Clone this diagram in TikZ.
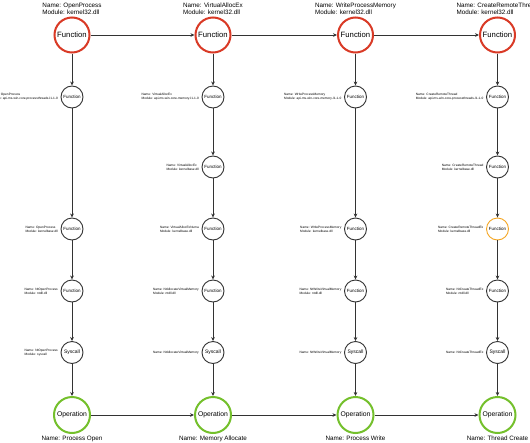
\documentclass[tikz,border=0pt]{standalone}
\usepackage{fontspec}
\setmainfont{Liberation Sans}
\usetikzlibrary{arrows.meta}
\definecolor{fnred}{HTML}{D93A26}
\definecolor{opgreen}{HTML}{74C02C}
\definecolor{fnorange}{HTML}{F5A623}
\definecolor{edge}{HTML}{333333}
\tikzset{
  bigfn/.style={circle, draw=fnred, line width=2pt, minimum size=35pt, inner sep=0pt, font=\fontsize{7.7}{8}\selectfont},
  opnode/.style={bigfn, draw=opgreen, minimum size=36pt, font=\fontsize{6.8}{8}\selectfont},
  sm/.style={circle, draw=edge, line width=0.9pt, minimum size=22pt, inner sep=0pt, font=\fontsize{4.5}{5}\selectfont},
  smo/.style={sm, draw=fnorange},
  sys/.style={sm, font=\fontsize{5}{6}\selectfont},
  arr/.style={-{Stealth[length=4pt,width=3.6pt]}, line width=0.8pt, draw=edge},
  toplbl/.style={font=\fontsize{6.3}{7.2}\selectfont, align=left, anchor=south, inner sep=0pt},
  botlbl/.style={font=\fontsize{6.3}{7.2}\selectfont, anchor=north, inner sep=0pt},
  smlbl/.style={font=\fontsize{3.2}{4}\selectfont, align=left, anchor=east, inner sep=0pt},
}
\begin{document}
\begin{tikzpicture}[x=1pt,y=-1pt]
\useasboundingbox (0,0) rectangle (530,442);
\fill[white] (0,0) rectangle (530,442);
% column 1
\node[bigfn] (a0) at (72,35) {Function};
\node[sm] (a1) at (72,97) {Function};
\node[sm] (a3) at (72,229) {Function};
\node[sm] (a4) at (72,291) {Function};
\node[sys] (a5) at (72,352.5) {Syscall};
\node[opnode] (a6) at (72,415) {Operation};
% column 2
\node[bigfn] (b0) at (213,35) {Function};
\node[sm] (b1) at (213,97) {Function};
\node[sm] (b2) at (213,167) {Function};
\node[sm] (b3) at (213,229) {Function};
\node[sm] (b4) at (213,291) {Function};
\node[sys] (b5) at (213,352.5) {Syscall};
\node[opnode] (b6) at (213,415) {Operation};
% column 3
\node[bigfn] (c0) at (355.5,35) {Function};
\node[sm] (c1) at (355.5,97) {Function};
\node[sm] (c3) at (355.5,229) {Function};
\node[sm] (c4) at (355.5,291) {Function};
\node[sys] (c5) at (355.5,352.5) {Syscall};
\node[opnode] (c6) at (355.5,415) {Operation};
% column 4
\node[bigfn] (d0) at (497.5,35) {Function};
\node[sm] (d1) at (497.5,97) {Function};
\node[sm] (d2) at (497.5,167) {Function};
\node[smo] (d3) at (497.5,229) {Function};
\node[sm] (d4) at (497.5,291) {Function};
\node[sys] (d5) at (497.5,352.5) {Syscall};
\node[opnode] (d6) at (497.5,415) {Operation};

% top labels
\node[toplbl] (ta) at ([yshift=1.5pt]a0.north) {Name: OpenProcess\\Module: kernel32.dll};
\node[toplbl] (tb) at ([yshift=1.5pt]b0.north) {Name: VirtualAllocEx\\Module: kernel32.dll};
\node[toplbl] (tc) at ([yshift=1.5pt]c0.north) {Name: WriteProcessMemory\\Module: kernel32.dll};
\node[toplbl] (td) at ([yshift=1.5pt]d0.north) {Name: CreateRemoteThread\\Module: kernel32.dll};
% bottom labels
\node[botlbl] (ba) at ([yshift=-1.5pt]a6.south) {Name: Process Open};
\node[botlbl] (bb) at ([yshift=-1.5pt]b6.south) {Name: Memory Allocate};
\node[botlbl] (bc) at ([yshift=-1.5pt]c6.south) {Name: Process Write};
\node[botlbl] (bd) at ([yshift=-1.5pt]d6.south) {Name: Thread Create};
% small labels
\node[smlbl] (la1) at ([xshift=-2.5pt]a1.west) {Name: OpenProcess\\Module: api-ms-win-core-processthreads-l1-1-0};
\node[smlbl] (la3) at ([xshift=-2.5pt]a3.west) {Name: OpenProcess\\Module: kernelbase.dll};
\node[smlbl] (la4) at ([xshift=-2.5pt]a4.west) {Name: NtOpenProcess\\Module: ntdll.dll};
\node[smlbl] (la5) at ([xshift=-2.5pt]a5.west) {Name: NtOpenProcess\\Module: syscall};
\node[smlbl] (lb1) at ([xshift=-2.5pt]b1.west) {Name: VirtualAllocEx\\Module: api-ms-win-core-memory-l1-1-0};
\node[smlbl] (lb2) at ([xshift=-2.5pt]b2.west) {Name: VirtualAllocEx\\Module: kernelbase.dll};
\node[smlbl] (lb3) at ([xshift=-2.5pt]b3.west) {Name: VirtualAllocExNuma\\Module: kernelbase.dll};
\node[smlbl] (lb4) at ([xshift=-2.5pt]b4.west) {Name: NtAllocateVirtualMemory\\Module: ntdll.dll};
\node[smlbl] (lb5) at ([xshift=-2.5pt]b5.west) {Name: NtAllocateVirtualMemory};
\node[smlbl] (lc1) at ([xshift=-2.5pt]c1.west) {Name: WriteProcessMemory\\Module: api-ms-win-core-memory-l1-1-0};
\node[smlbl] (lc3) at ([xshift=-2.5pt]c3.west) {Name: WriteProcessMemory\\Module: kernelbase.dll};
\node[smlbl] (lc4) at ([xshift=-2.5pt]c4.west) {Name: NtWriteVirtualMemory\\Module: ntdll.dll};
\node[smlbl] (lc5) at ([xshift=-2.5pt]c5.west) {Name: NtWriteVirtualMemory};
\node[smlbl] (ld1) at ([xshift=-2.5pt]d1.west) {Name: CreateRemoteThread\\Module: api-ms-win-core-processthreads-l1-1-0};
\node[smlbl] (ld2) at ([xshift=-2.5pt]d2.west) {Name: CreateRemoteThread\\Module: kernelbase.dll};
\node[smlbl] (ld3) at ([xshift=-2.5pt]d3.west) {Name: CreateRemoteThreadEx\\Module: kernelbase.dll};
\node[smlbl] (ld4) at ([xshift=-2.5pt]d4.west) {Name: NtCreateThreadEx\\Module: ntdll.dll};
\node[smlbl] (ld5) at ([xshift=-2.5pt]d5.west) {Name: NtCreateThreadEx};

% horizontal arrows
\draw[arr] (a0) -- (b0);
\draw[arr] (b0) -- (c0);
\draw[arr] (c0) -- (d0);
\draw[arr] (a6) -- (b6);
\draw[arr] (b6) -- (c6);
\draw[arr] (c6) -- (d6);
% vertical arrows
\draw[arr] (a0) -- (a1);
\draw[arr] (a1) -- (a3);
\draw[arr] (a3) -- (a4);
\draw[arr] (a4) -- (a5);
\draw[arr] (a5) -- (a6);
\draw[arr] (b0) -- (b1);
\draw[arr] (b1) -- (b2);
\draw[arr] (b2) -- (b3);
\draw[arr] (b3) -- (b4);
\draw[arr] (b4) -- (b5);
\draw[arr] (b5) -- (b6);
\draw[arr] (c0) -- (c1);
\draw[arr] (c1) -- (c3);
\draw[arr] (c3) -- (c4);
\draw[arr] (c4) -- (c5);
\draw[arr] (c5) -- (c6);
\draw[arr] (d0) -- (d1);
\draw[arr] (d1) -- (d2);
\draw[arr] (d2) -- (d3);
\draw[arr] (d3) -- (d4);
\draw[arr] (d4) -- (d5);
\draw[arr] (d5) -- (d6);
\end{tikzpicture}
\end{document}
